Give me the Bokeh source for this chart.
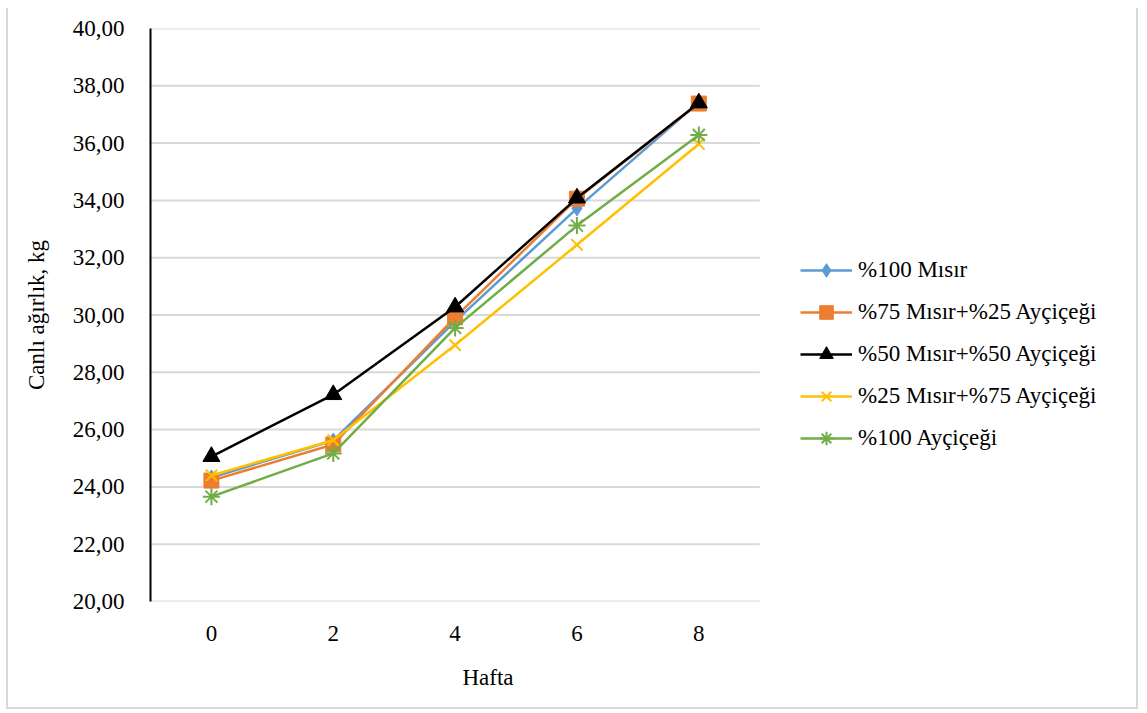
from bokeh.plotting import figure
from bokeh.models import (Range1d, FixedTicker, CustomJSTickFormatter,
                          Legend, LegendItem, Title, ColumnDataSource)
from bokeh.embed import file_html
from bokeh.resources import INLINE

# ---- data ----
weeks = [0, 2, 4, 6, 8]
series_names = ["%100 Mısır", "%75 Mısır+%25 Ayçiçeği", "%50 Mısır+%50 Ayçiçeği",
                "%25 Mısır+%75 Ayçiçeği", "%100 Ayçiçeği"]
misir100 = [24.33, 25.62, 29.78, 33.72, 37.42]
misir75_ay25 = [24.22, 25.48, 29.92, 34.06, 37.38]
misir50_ay50 = [25.06, 27.22, 30.28, 34.08, 37.40]
misir25_ay75 = [24.40, 25.63, 28.95, 32.45, 35.97]
aycicegi100 = [23.66, 25.17, 29.55, 33.12, 36.28]
y_ticks = [20, 22, 24, 26, 28, 30, 32, 34, 36, 38, 40]

FONT = "Liberation Serif"
FS = "23px"

x_lo = weeks[0] - 1          # half a category step before the first week
x_hi = weeks[-1] + 1         # half a category step after the last week

p = figure(width=1132, height=701, x_range=Range1d(x_lo, 15.25), y_range=Range1d(20, 40),
           output_backend="svg", toolbar_location=None,
           min_border_left=142, min_border_right=0, min_border_top=20, min_border_bottom=105,
           styles={"border-left": "2px solid #d9d9d9", "border-right": "2px solid #d9d9d9",
                   "border-bottom": "2px solid #d9d9d9", "margin-left": "6px",
                   "margin-top": "8px"})
p.outline_line_color = None
p.background_fill_color = "white"
p.border_fill_color = "white"
p.xgrid.grid_line_color = None
p.ygrid.grid_line_color = None

# horizontal gridlines limited to the plotting area of the weeks
grid_src = ColumnDataSource(dict(y=y_ticks, x0=[x_lo] * len(y_ticks), x1=[x_hi] * len(y_ticks)))
p.segment(x0="x0", x1="x1", y0="y", y1="y", source=grid_src,
          line_color="#d9d9d9", line_width=2, level="underlay")

# axes
p.yaxis.ticker = FixedTicker(ticks=y_ticks)
p.yaxis.formatter = CustomJSTickFormatter(code="return tick.toFixed(2).replace('.', ',');")
p.yaxis.axis_line_color = "black"
p.yaxis.axis_line_width = 2
p.yaxis.major_tick_line_color = None
p.yaxis.minor_tick_line_color = None
p.yaxis.major_label_standoff = 20
p.yaxis.axis_label = "Canlı ağırlık, kg"
p.yaxis.axis_label_standoff = 21

p.xaxis.ticker = FixedTicker(ticks=weeks)
p.xaxis.axis_line_color = None
p.xaxis.major_tick_line_color = None
p.xaxis.minor_tick_line_color = None
p.xaxis.major_label_standoff = 18

for ax in [p.xaxis, p.yaxis]:
    ax.major_label_text_font = FONT
    ax.major_label_text_font_size = FS
    ax.major_label_text_color = "black"
    ax.axis_label_text_font = FONT
    ax.axis_label_text_font_size = FS
    ax.axis_label_text_font_style = "normal"
    ax.axis_label_text_color = "black"

xtitle = Title(text="Hafta", align="left", offset=312, standoff=39,
               text_font=FONT, text_font_size=FS, text_font_style="normal",
               text_color="black")
p.add_layout(xtitle, "below")

data = [misir100, misir75_ay25, misir50_ay50, misir25_ay75, aycicegi100]
colors = ["#5B9BD5", "#ED7D31", "#000000", "#FFC000", "#70AD47"]
markers = ["diamond", "square", "triangle", "x", "asterisk"]
sizes = [15, 15, 17, 16, 17]

items = []
for name, vals, c, m, s in zip(series_names, data, colors, markers, sizes):
    ln = p.line(weeks, vals, line_color=c, line_width=2.5)
    sc = p.scatter(weeks, vals, marker=m, size=s, fill_color=c, line_color=c,
                   line_width=2 if m in ("x", "asterisk") else 1)
    items.append(LegendItem(label=name, renderers=[ln, sc]))

legend = Legend(items=items, location=(650, 146), orientation="vertical",
                label_text_font=FONT, label_text_font_size=FS, label_text_color="black",
                glyph_width=52, glyph_height=34, label_height=24, label_standoff=6,
                spacing=8, padding=0, margin=0,
                border_line_color=None, background_fill_alpha=0)
p.add_layout(legend, "center")

open("out.html", "w").write(file_html(p, INLINE))
